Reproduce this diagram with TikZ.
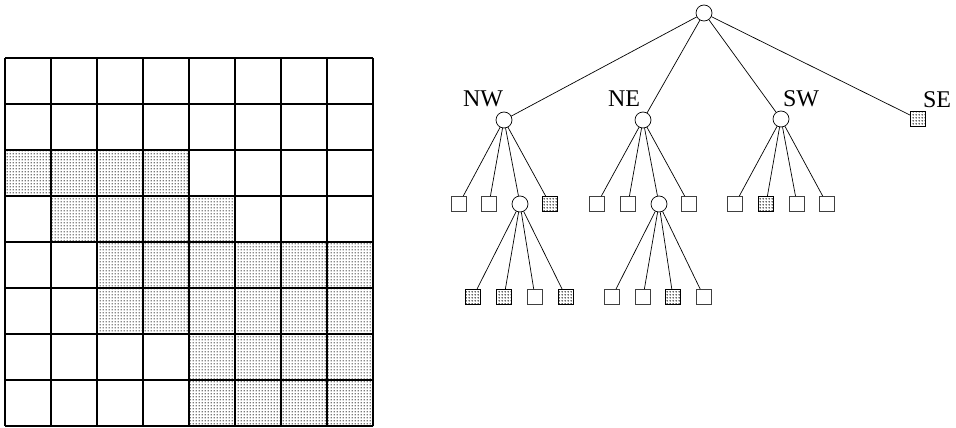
\documentclass[tikz,border=0pt]{standalone}
\usepackage{fontspec}
\setmainfont{Liberation Serif}
\usetikzlibrary{patterns}
\pgfdeclarepatternformonly{mydots}{\pgfpointorigin}{\pgfqpoint{3pt}{3pt}}{\pgfqpoint{3pt}{3pt}}{%
  \pgfpathcircle{\pgfqpoint{1.5pt}{1.5pt}}{0.95pt}\pgfusepath{fill}}
\begin{document}
\begin{tikzpicture}[x=1pt,y=-1pt,
  inner/.style={circle,draw,line width=0.7pt,minimum size=16pt,inner sep=0pt},
  leaf/.style={rectangle,draw=black!75,line width=0.8pt,minimum size=15pt,inner sep=0pt},
  fullleaf/.style={leaf,draw=black,line width=1.2pt,pattern=mydots,pattern color=black!80},
  lbl/.style={font=\fontsize{24}{24}\selectfont,inner sep=0pt},
  edge/.style={line width=0.7pt}]
\useasboundingbox (0,0) rectangle (956,428);
% grid shading
\foreach \r/\a/\b in {2/0/3,3/1/4,4/2/7,5/2/7,6/4/7,7/4/7}{
  \fill[pattern=mydots,pattern color=black!80] (5+46*\a,58+46*\r) rectangle (5+46*\b+46,58+46*\r+46);
}
\foreach \i in {0,...,8}{
  \draw[line width=1.4pt] (5+46*\i,58) -- (5+46*\i,426);
  \draw[line width=1.4pt] (5,58+46*\i) -- (373,58+46*\i);
}
% tree
\node[inner] (root) at (704,13) {};
\node[inner] (nw) at (504,120) {};
\node[inner] (ne) at (643,120) {};
\node[inner] (sw) at (781,119) {};
\node[fullleaf] (se) at (918,119) {};
\node[lbl] (lnw) at (483,99) {NW};
\node[lbl] (lne) at (624,99) {NE};
\node[lbl] (lsw) at (801,99) {SW};
\node[lbl] (lse) at (937,100) {SE};
\node[leaf] (nw1) at (459,204) {};
\node[leaf] (nw2) at (489,204) {};
\node[inner] (nwc) at (520,204) {};
\node[fullleaf] (nw4) at (550,204) {};
\node[leaf] (ne1) at (597,204) {};
\node[leaf] (ne2) at (628,204) {};
\node[inner] (nec) at (659,204) {};
\node[leaf] (ne4) at (689,204) {};
\node[leaf] (sw1) at (735,204) {};
\node[fullleaf] (sw2) at (766,204) {};
\node[leaf] (sw3) at (797,204) {};
\node[leaf] (sw4) at (827,204) {};
\node[fullleaf] (nwc1) at (473,297) {};
\node[fullleaf] (nwc2) at (504,297) {};
\node[leaf] (nwc3) at (535,297) {};
\node[fullleaf] (nwc4) at (566,297) {};
\node[leaf] (nec1) at (612,297) {};
\node[leaf] (nec2) at (643,297) {};
\node[fullleaf] (nec3) at (673,297) {};
\node[leaf] (nec4) at (704,297) {};
\foreach \c in {nw,ne,sw,se}{\draw[edge] (root) -- (\c);}
\foreach \c in {nw1,nw2,nwc,nw4}{\draw[edge] (nw) -- (\c);}
\foreach \c in {ne1,ne2,nec,ne4}{\draw[edge] (ne) -- (\c);}
\foreach \c in {sw1,sw2,sw3,sw4}{\draw[edge] (sw) -- (\c);}
\foreach \c in {nwc1,nwc2,nwc3,nwc4}{\draw[edge] (nwc) -- (\c);}
\foreach \c in {nec1,nec2,nec3,nec4}{\draw[edge] (nec) -- (\c);}
\end{tikzpicture}
\end{document}
